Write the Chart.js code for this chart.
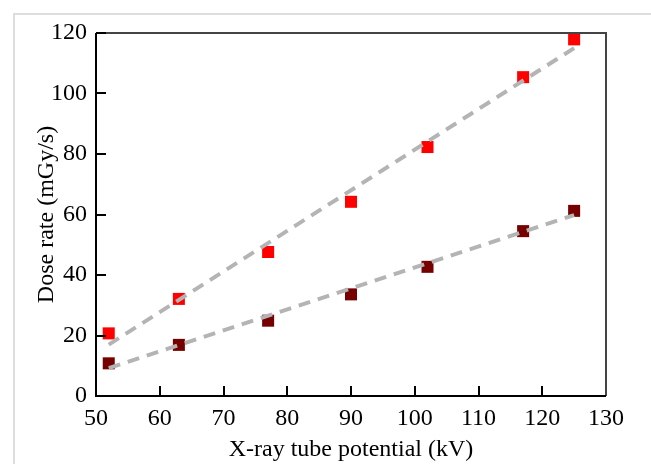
<!DOCTYPE html>
<html>
<head>
<meta charset="utf-8">
<script src="https://cdn.jsdelivr.net/npm/chart.js@4"></script>
<style>
html, body { margin: 0; padding: 0; background: #fff; overflow: hidden; }
#wrap { position: relative; width: 651px; height: 464px; }
#frame { position: absolute; left: 13px; top: 13px; width: 700px; height: 500px;
  border-top: 2px solid #dddddd; border-left: 2px solid #dddddd; }
canvas { position: absolute; left: 0; top: 0; }
</style>
</head>
<body>
<div id="wrap"><div id="frame"></div><canvas id="myChart" width="651" height="464"></canvas></div>
<script>
// data
const potentials = [52, 63, 77, 90, 102, 117, 125];
const doseHigh = [20.7, 32.1, 47.6, 64.2, 82.3, 105.4, 117.9];
const doseLow = [10.8, 16.9, 24.9, 33.6, 42.7, 54.5, 61.2];
const fitX = [52, 125];
const fitHigh = [17, 115];
const fitLow = [9.2, 59.8];
const xMin = 50, xMax = 130, xStep = 10;
const yMin = 0, yMax = 120, yStep = 20;

const serif = 'Liberation Serif, Times New Roman, serif';
const ctx = document.getElementById('myChart');

function pts(xs, ys) {
    return xs.map((x, i) => ({x: x, y: ys[i]}));
}

// axes box + inward tick marks
const framePlugin = {
    id: 'frame',
    afterDraw(chart) {
        const c = chart.ctx, a = chart.chartArea;
        const sx = chart.scales.x, sy = chart.scales.y;
        c.save();
        c.lineWidth = 2;
        c.strokeStyle = '#444';
        c.beginPath();
        c.moveTo(a.left, a.top); c.lineTo(a.right, a.top); c.lineTo(a.right, a.bottom);
        c.stroke();
        c.strokeStyle = '#000';
        c.beginPath();
        c.moveTo(a.left, a.top); c.lineTo(a.left, a.bottom); c.lineTo(a.right, a.bottom);
        sx.ticks.forEach(t => {
            if (t.value <= xMin || t.value >= xMax) return;
            const px = Math.round(sx.getPixelForValue(t.value));
            c.moveTo(px, a.bottom); c.lineTo(px, a.bottom - 10);
        });
        sy.ticks.forEach(t => {
            if (t.value <= yMin) return;
            const py = Math.round(sy.getPixelForValue(t.value));
            c.moveTo(a.left, py); c.lineTo(a.left + 10, py);
        });
        c.stroke();
        c.restore();
    }
};

const chart = new Chart(ctx, {
    type: 'scatter',
    data: {
        datasets: [
            {
                type: 'line', data: pts(fitX, fitHigh), borderColor: '#b4b4b4',
                borderWidth: 4, borderDash: [12, 8], pointRadius: 0, order: 0, fill: false
            },
            {
                type: 'line', data: pts(fitX, fitLow), borderColor: '#b4b4b4',
                borderWidth: 4, borderDash: [12, 8], pointRadius: 0, order: 0, fill: false
            },
            {
                data: pts(potentials, doseHigh), pointStyle: 'rect', pointRadius: 8.5,
                backgroundColor: '#ff0000', borderColor: '#ff0000', borderWidth: 0,
                order: 1, clip: false
            },
            {
                data: pts(potentials, doseLow), pointStyle: 'rect', pointRadius: 8.5,
                backgroundColor: '#760000', borderColor: '#760000', borderWidth: 0,
                order: 1, clip: false
            }
        ]
    },
    options: {
        responsive: false,
        animation: false,
        events: [],
        layout: { padding: { top: 33, right: 45, left: 0, bottom: 0 } },
        plugins: { legend: { display: false }, tooltip: { enabled: false } },
        scales: {
            x: {
                type: 'linear', min: xMin, max: xMax,
                grid: { display: false }, border: { display: false },
                ticks: { stepSize: xStep, color: '#000', padding: 0, font: { family: serif, size: 24 } },
                title: {
                    display: true, text: 'X-ray tube potential (kV)', color: '#000',
                    padding: { top: 8, bottom: 0 }, font: { family: serif, size: 24 }
                },
                afterFit(scale) { scale.height = 68; }
            },
            y: {
                type: 'linear', min: yMin, max: yMax,
                grid: { display: false }, border: { display: false },
                ticks: { stepSize: yStep, color: '#000', padding: 1, font: { family: serif, size: 24 } },
                title: {
                    display: true, text: 'Dose rate (mGy/s)', color: '#000',
                    padding: { top: 32, bottom: 0 }, font: { family: serif, size: 24 }
                },
                afterFit(scale) { scale.width = 96; }
            }
        }
    },
    plugins: [framePlugin]
});
</script>
</body>
</html>
